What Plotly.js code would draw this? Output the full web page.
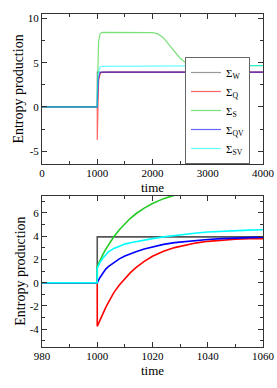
<!DOCTYPE html>
<html>
<head>
<meta charset="utf-8">
<script src="https://cdn.plot.ly/plotly-3.0.1.min.js"></script>
<style>
  html, body { margin: 0; padding: 0; background: #fff; }
  #chart { width: 277px; height: 388px; }
</style>
</head>
<body>
<div id="chart"></div>
<script>
// ---- data ----
const time = [0, 980, 1000, 1000, 1001, 1002, 1003, 1004, 1006, 1008, 1010, 1012, 1014,
  1017, 1020, 1024, 1028, 1032, 1036, 1040, 1045, 1050, 1055, 1060, 1080, 1100, 1200,
  1500, 1800, 2000, 2100, 2200, 2300, 2400, 2500, 2600, 2700, 2800, 2900, 3000, 3500, 4000];

const sigmaW = [0, 0, 0, 3.94, 3.94, 3.94, 3.94, 3.94, 3.94, 3.94, 3.94, 3.94, 3.94,
  3.94, 3.94, 3.94, 3.94, 3.94, 3.94, 3.94, 3.94, 3.94, 3.94, 3.94, 3.94, 3.94, 3.94,
  3.94, 3.94, 3.94, 3.94, 3.94, 3.94, 3.94, 3.94, 3.94, 3.94, 3.94, 3.94, 3.94, 3.94, 3.94];

const sigmaQ = [0, 0, 0, -3.75, -3.18, -2.66, -2.17, -1.72, -0.85, -0.2, 0.38, 0.87, 1.3,
  1.84, 2.27, 2.7, 3.02, 3.25, 3.43, 3.56, 3.66, 3.74, 3.79, 3.83, 3.9, 3.92, 3.93,
  3.93, 3.93, 3.93, 3.93, 3.93, 3.93, 3.93, 3.93, 3.93, 3.93, 3.93, 3.93, 3.93, 3.93, 3.93];

const sigmaS = [0, 0, 0, 1.4, 1.95, 2.42, 2.85, 3.25, 3.95, 4.56, 5.08, 5.54, 5.93,
  6.42, 6.81, 7.23, 7.53, 7.76, 7.93, 8.05, 8.16, 8.23, 8.29, 8.33, 8.4, 8.42, 8.42,
  8.42, 8.42, 8.4, 8.25, 7.8, 7.0, 6.2, 5.5, 5.0, 4.78, 4.68, 4.65, 4.65, 4.66, 4.67];

const sigmaQV = [0, 0, 0, 0, 0.45, 0.85, 1.15, 1.38, 1.75, 2.05, 2.3, 2.5, 2.67,
  2.9, 3.08, 3.3, 3.45, 3.56, 3.65, 3.72, 3.79, 3.85, 3.89, 3.92, 3.94, 3.94, 3.94,
  3.94, 3.94, 3.94, 3.94, 3.94, 3.94, 3.94, 3.94, 3.94, 3.94, 3.94, 3.94, 3.94, 3.94, 3.94];

const sigmaSV = [0, 0, 0, 1.25, 1.75, 2.1, 2.4, 2.65, 2.95, 3.17, 3.32, 3.44, 3.54,
  3.66, 3.79, 3.94, 4.07, 4.18, 4.28, 4.36, 4.43, 4.48, 4.52, 4.55, 4.57, 4.58, 4.58,
  4.59, 4.6, 4.6, 4.61, 4.61, 4.62, 4.62, 4.63, 4.63, 4.64, 4.64, 4.65, 4.65, 4.66, 4.67];

const seriesNames = ['Σ<sub>W</sub>', 'Σ<sub>Q</sub>', 'Σ<sub>S</sub>', 'Σ<sub>QV</sub>', 'Σ<sub>SV</sub>'];
const seriesValues = [sigmaW, sigmaQ, sigmaS, sigmaQV, sigmaSV];
const seriesColors = ['#555555', '#ff0000', '#22cc22', '#0000ff', '#00ffff'];

const topYTickVals = [-5, 0, 5, 10];
const topYTickText = ['-5', '0', '5', '10'];
const botYTickVals = [-4, -2, 0, 2, 4, 6];
const botYTickText = ['-4', '-2', '0', '2', '4', '6'];
const xTitle = 'time';
const yTitle = 'Entropy production';

// ---- traces ----
const traces = [];
seriesValues.forEach((vals, i) => {
  traces.push({
    x: time, y: vals, xaxis: 'x', yaxis: 'y', type: 'scatter', mode: 'lines',
    name: seriesNames[i], showlegend: true,
    opacity: 0.6,
    line: { color: seriesColors[i], width: 1.2 }
  });
});
seriesValues.forEach((vals, i) => {
  traces.push({
    x: time, y: vals, xaxis: 'x2', yaxis: 'y2', type: 'scatter', mode: 'lines',
    name: seriesNames[i], showlegend: false,
    line: { color: seriesColors[i], width: 1.6 }
  });
});

const FONT = 'Liberation Serif, Times New Roman, serif';
const axisCommon = {
  showline: true, linecolor: '#333', linewidth: 1, mirror: 'allticks',
  ticks: 'inside', ticklen: 5, tickcolor: '#333', tickwidth: 1,
  showgrid: false, zeroline: false,
  tickfont: { family: FONT, size: 11, color: '#000' }
};
const xDomain = [42 / 277, 263 / 277];

const layout = {
  width: 277, height: 388,
  margin: { l: 0, r: 0, t: 0, b: 0 },
  paper_bgcolor: '#fff', plot_bgcolor: '#fff',
  font: { family: FONT, color: '#000' },
  showlegend: true,
  legend: {
    x: 250 / 277, y: (388 - 164) / 388, xanchor: 'right', yanchor: 'bottom',
    bgcolor: '#fff', bordercolor: '#666', borderwidth: 1,
    font: { family: FONT, size: 11 },
    itemwidth: 30, tracegroupgap: 0
  },
  xaxis: Object.assign({}, axisCommon, {
    domain: xDomain, anchor: 'y', range: [0, 4000], tickmode: 'linear', tick0: 0, dtick: 1000,
    ticklabelstandoff: -1,
    minor: { ticks: 'inside', ticklen: 3, tickcolor: '#333', dtick: 500, tick0: 0 }
  }),
  yaxis: Object.assign({}, axisCommon, {
    domain: [(388 - 164) / 388, (388 - 14) / 388], anchor: 'x', range: [-6.45, 10.5],
    tickmode: 'array', tickvals: topYTickVals, ticktext: topYTickText,
    minor: { ticks: 'inside', ticklen: 3, tickcolor: '#333', tickmode: 'linear', dtick: 2.5, tick0: 0 },
    title: { text: yTitle, font: { family: FONT, size: 14 }, standoff: 0 }
  }),
  xaxis2: Object.assign({}, axisCommon, {
    domain: xDomain, anchor: 'y2', range: [980, 1060], tickmode: 'linear', tick0: 980, dtick: 20,
    ticklabelstandoff: -1,
    minor: { ticks: 'inside', ticklen: 3, tickcolor: '#333', dtick: 10, tick0: 980 }
  }),
  yaxis2: Object.assign({}, axisCommon, {
    domain: [(388 - 346.7) / 388, (388 - 195.5) / 388], anchor: 'x2', range: [-5.5, 7.5],
    tickmode: 'array', tickvals: botYTickVals, ticktext: botYTickText,
    minor: { ticks: 'inside', ticklen: 3, tickcolor: '#333', tickmode: 'linear', dtick: 1, tick0: 0 },
    title: { text: yTitle, font: { family: FONT, size: 14 }, standoff: 0 }
  }),
  annotations: [
    { text: xTitle, xref: 'x domain', yref: 'paper', x: 0.5, y: (388 - 187.5) / 388,
      xanchor: 'center', yanchor: 'middle', showarrow: false, borderpad: 0,
      font: { family: FONT, size: 13, color: '#000' } },
    { text: xTitle, xref: 'x2 domain', yref: 'paper', x: 0.5, y: (388 - 370) / 388,
      xanchor: 'center', yanchor: 'middle', showarrow: false, borderpad: 0,
      font: { family: FONT, size: 13, color: '#000' } }
  ]
};

Plotly.newPlot('chart', traces, layout, { staticPlot: true, displayModeBar: false });
</script>
</body>
</html>
